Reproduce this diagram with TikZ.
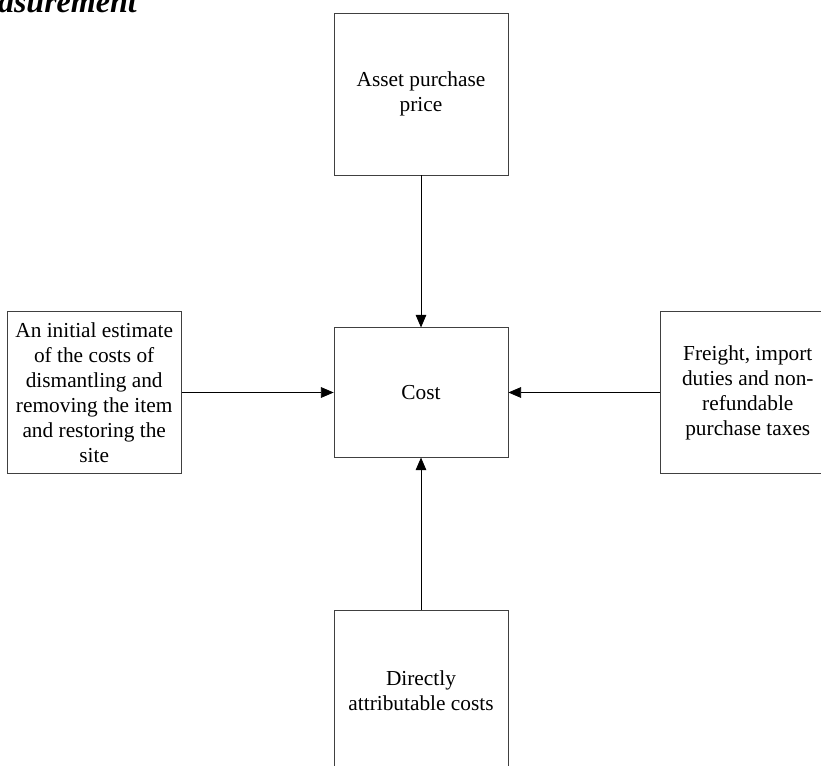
\documentclass[tikz,border=0pt]{standalone}
\usepackage{fontspec}
\setmainfont{Liberation Serif}
\usetikzlibrary{arrows.meta}
\usetikzlibrary{positioning}

\begin{document}
\begin{tikzpicture}[
    x=0.75pt, y=-0.75pt,
    node distance=114pt,
    every node/.style={align=center,font=\fontsize{16}{18.75}\selectfont},
    box/.style={
        draw=black!75,line width=0.6pt,inner sep=2pt,
        minimum width=130.5pt,minimum height=121.5pt
    },
    every edge/.append style={
        line width=0.6pt,
        -{Triangle[length=9.5pt,width=8pt]}
    },
    heading/.style={
        inner sep=0pt,font=\fontsize{24}{28}\selectfont\bfseries\itshape
    }
]
    \useasboundingbox (0,0) rectangle (821,766);

    \node (heading) [heading,anchor=base east] at (137,13) {asurement};

    \node (cost) [box,minimum height=97pt] at (421,392.5) {Cost};
    \node (price) [box,above=of cost] {Asset purchase\\price};
    \node (estimate) [box,left=of cost] {An initial estimate\\of the costs of\\dismantling and\\removing the item\\and restoring the\\site};
    \node (freight) [box,right=of cost] {Freight, import\\duties and non-\\refundable\\purchase taxes};
    \node (direct) [box,below=of cost] {Directly\\attributable costs};

    \draw (price) edge (cost);
    \draw (estimate) edge (cost);
    \draw (freight) edge (cost);
    \draw (direct) edge (cost);

\end{tikzpicture}
\end{document}
